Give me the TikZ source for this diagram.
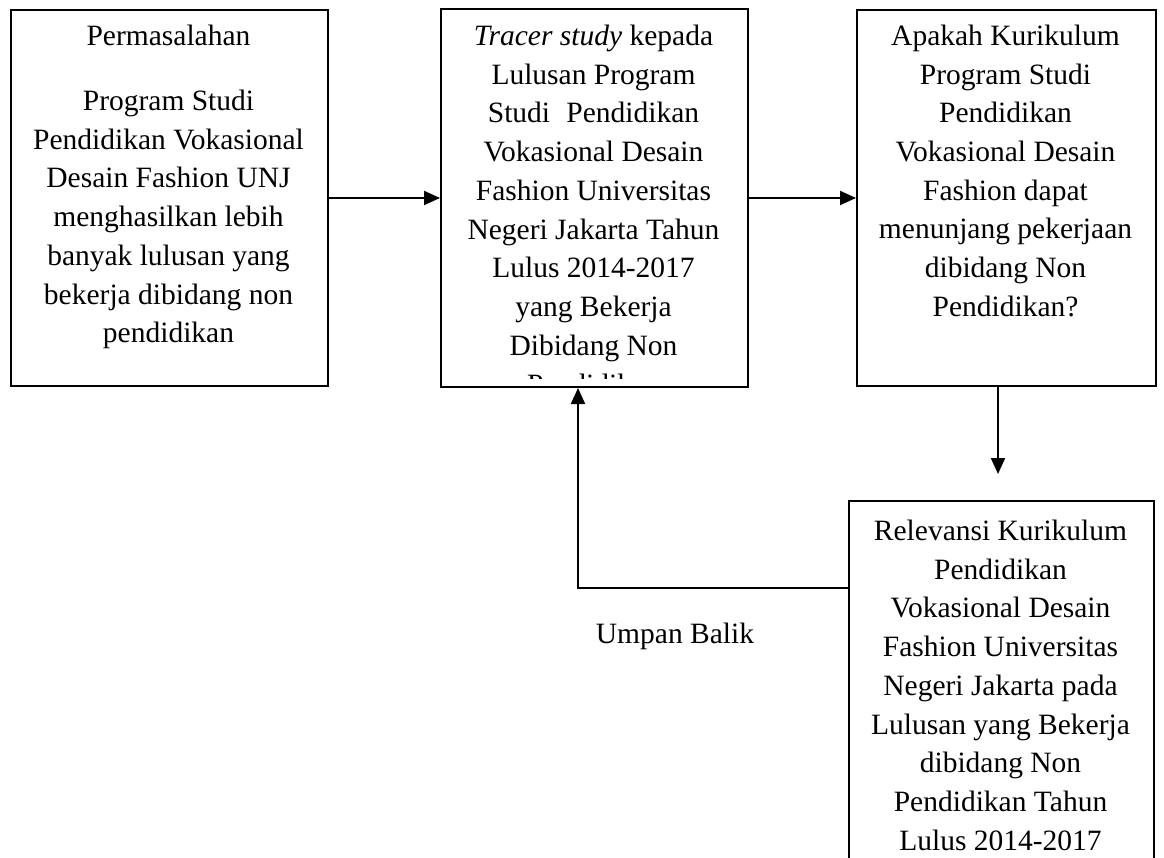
\documentclass[tikz,border=0pt]{standalone}
\usepackage{fontspec}
\setmainfont{Liberation Serif}
\usetikzlibrary{arrows.meta}
\begin{document}
\begin{tikzpicture}[x=1pt,y=-1pt,
  box/.style={draw, line width=2pt, rectangle, inner sep=0pt, anchor=north west},
  txt/.style={align=center, inner sep=0pt, anchor=base, font=\fontsize{29.5}{38.7}\selectfont},
  conn/.style={line width=2pt, -{Triangle[length=16pt,width=14pt]}}]
\clip (0,0) rectangle (1164,858);
\fill[white] (0,0) rectangle (1164,858);
% boxes
\node[box, minimum width=317pt, minimum height=376pt] (b1) at (10,9) {};
\node[box, minimum width=307pt, minimum height=378pt] (b2) at (440,8) {};
\node[box, minimum width=299pt, minimum height=376pt] (b3) at (856,9) {};
\node[box, minimum width=305pt, minimum height=420pt] (b4) at (848,500) {};
% texts (base anchor = baseline of the last line)
\node[txt] (t1a) at (168.5,45.5) {Permasalahan};
\node[txt] (t1b) at (168.5,342.7) {Program Studi\\Pendidikan Vokasional\\Desain Fashion UNJ\\menghasilkan lebih\\banyak lulusan yang\\bekerja dibidang non\\pendidikan};
\node[txt] (t2) at (593.5,355.1) {\textit{Tracer study} kepada\\Lulusan Program\\Studi\hspace{0.3em} Pendidikan\\Vokasional Desain\\Fashion Universitas\\Negeri Jakarta Tahun\\Lulus 2014-2017\\yang Bekerja\\Dibidang Non};
\begin{scope}
\clip (442,360) rectangle (745,378.5);
\node[txt] (t2c) at (593.5,394.2) {Pendidikan};
\end{scope}
\node[txt] (t3) at (1005.5,316.4) {Apakah Kurikulum\\Program Studi\\Pendidikan\\Vokasional Desain\\Fashion dapat\\menunjang pekerjaan\\dibidang Non\\Pendidikan?};
\node[txt] (t4) at (1000.5,850.1) {Relevansi Kurikulum\\Pendidikan\\Vokasional Desain\\Fashion Universitas\\Negeri Jakarta pada\\Lulusan yang Bekerja\\dibidang Non\\Pendidikan Tahun\\Lulus 2014-2017};
\node[txt] (lbl) at (675,643) {Umpan Balik};
% connectors
\draw[conn] (b1.east) -- (b2.west);
\draw[conn] (b2.east) -- (b3.west);
\coordinate (d3) at (998,474);
\draw[conn] (d3 |- b3.south) -- (d3);
\coordinate (fb) at (578,588);
\draw[conn] (fb -| b4.west) -- (fb) -- (fb |- b2.south);
\end{tikzpicture}
\end{document}
